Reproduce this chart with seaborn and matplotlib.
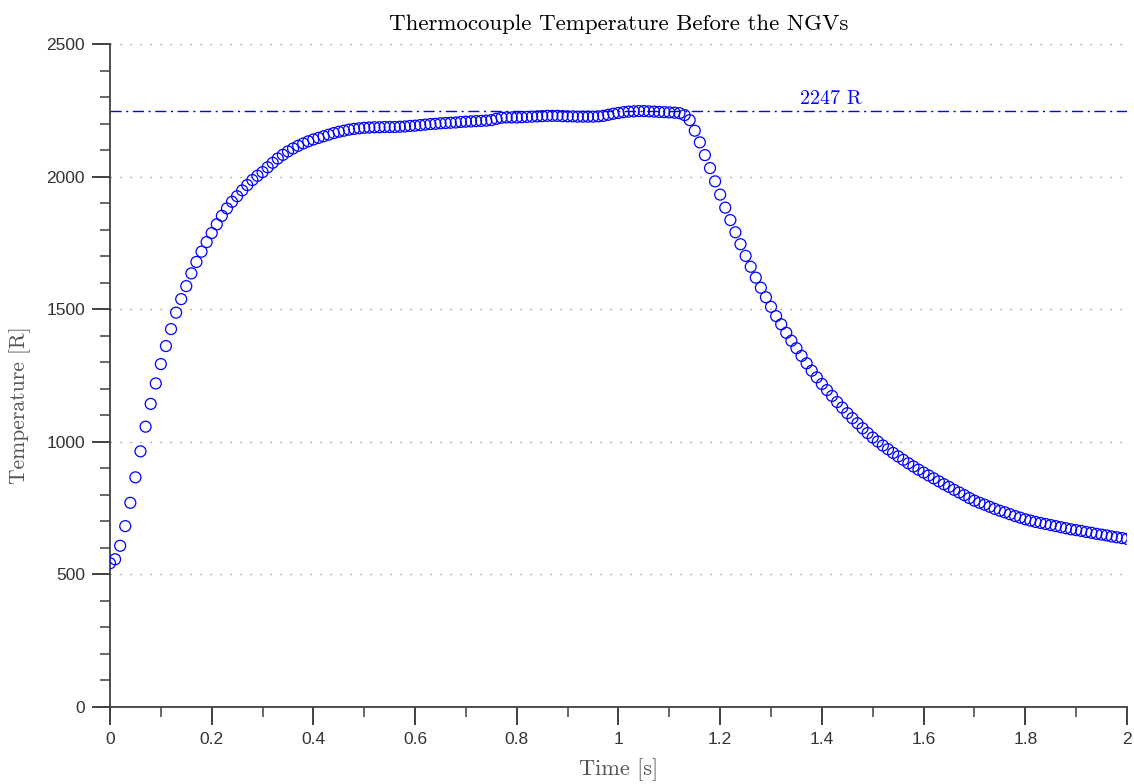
import numpy as np
import pandas as pd
import matplotlib
matplotlib.use("Agg")
import matplotlib.pyplot as plt
import seaborn as sns
from matplotlib.ticker import MultipleLocator, FuncFormatter

# ==========================================
# DATA (one sample every 0.01 s)
# ==========================================
SAMPLE_STEP = 0.01   # seconds between thermocouple samples
PEAK_TEMP = 2247     # reference line value [R]

temp_rise = [   # 0.00 .. 0.49 s
    542, 557, 608, 682, 770, 866, 964, 1057, 1143, 1220,
    1293, 1361, 1425, 1487, 1538, 1587, 1635, 1678, 1717, 1753,
    1787, 1820, 1852, 1880, 1905, 1926, 1948, 1968, 1987, 2003,
    2017, 2035, 2052, 2068, 2082, 2095, 2106, 2116, 2125, 2133,
    2140, 2146, 2152, 2158, 2164, 2169, 2173, 2177, 2180, 2182,
]
temp_plateau = [   # 0.50 .. 1.13 s
    2184, 2185, 2186, 2186, 2187, 2187, 2187, 2188, 2189, 2191,
    2192, 2194, 2196, 2198, 2199, 2201, 2202, 2203, 2204, 2206,
    2207, 2208, 2209, 2210, 2211, 2213, 2218, 2222, 2223, 2223,
    2223, 2224, 2225, 2226, 2227, 2228, 2229, 2229, 2229, 2228,
    2227, 2227, 2226, 2226, 2226, 2226, 2227, 2229, 2233, 2237,
    2240, 2243, 2245, 2246, 2247, 2247, 2246, 2245, 2244, 2243,
    2242, 2241, 2239, 2232,
]
temp_decay = [   # 1.14 .. 2.00 s
    2213, 2173, 2129, 2081, 2032, 1982, 1932, 1883, 1836, 1790,
    1745, 1701, 1660, 1619, 1581, 1545, 1509, 1474, 1443, 1411,
    1381, 1353, 1324, 1296, 1268, 1243, 1218, 1195, 1173, 1150,
    1129, 1108, 1089, 1070, 1051, 1033, 1016, 1001, 986, 972,
    958, 945, 932, 919, 907, 895, 884, 873, 862, 851,
    840, 830, 819, 809, 799, 788, 778, 770, 763, 755,
    747, 740, 734, 727, 720, 714, 708, 703, 698, 694,
    690, 686, 682, 678, 674, 670, 667, 664, 660, 657,
    653, 650, 647, 643, 640, 637, 634,
]

temps = temp_rise + temp_plateau + temp_decay
df = pd.DataFrame({"time": np.arange(len(temps)) * SAMPLE_STEP, "temp": temps})

# ==========================================
# PLOT
# ==========================================
sns.set_style("ticks")
plt.rcParams["font.family"] = ["Liberation Sans", "DejaVu Sans"]
SERIF = ["cmr10", "DejaVu Serif"]
AX_GRAY = "#404040"

fig = plt.figure(figsize=(11.34, 7.84), dpi=100)
ax = fig.add_axes([0.097, 0.0982, 0.8968, 0.8457])

sns.scatterplot(data=df, x="time", y="temp", ax=ax, marker="o",
                facecolors="none", edgecolor="#0000ff", linewidth=0.9, s=62,
                zorder=3, legend=False)

ax.axhline(PEAK_TEMP, color="#0000ff", linestyle=(0, (8, 3.3, 1.5, 3.3)),
           linewidth=1.0, zorder=2)
ax.text(1.418, PEAK_TEMP + 12, f"{PEAK_TEMP} R", color="#0000ff", fontsize=14.5,
        family=SERIF, ha="center", va="bottom")

ax.set_xlim(0, 2)
ax.set_ylim(0, 2500)
ax.xaxis.set_major_locator(MultipleLocator(0.2))
ax.xaxis.set_minor_locator(MultipleLocator(0.1))
ax.yaxis.set_major_locator(MultipleLocator(500))
ax.yaxis.set_minor_locator(MultipleLocator(100))
ax.xaxis.set_major_formatter(FuncFormatter(lambda v, p: f"{v:g}"))

ax.yaxis.grid(True, which="major", linestyle=(0, (1, 7)), color="#808080", linewidth=0.9)
ax.xaxis.grid(False)

sns.despine(ax=ax)
for side in ["left", "bottom"]:
    ax.spines[side].set_color(AX_GRAY)
    ax.spines[side].set_linewidth(1.3)
ax.tick_params(which="major", direction="out", length=13, width=1.4, color=AX_GRAY,
               labelsize=12.5, labelcolor="#333333", pad=5)
ax.tick_params(which="minor", direction="out", length=7, width=1.1, color=AX_GRAY)

ax.set_title("Thermocouple Temperature Before the NGVs", family=SERIF, fontsize=16.5,
             color="black", pad=10)
ax.set_xlabel("Time [s]", family=SERIF, fontsize=16, color="#555555", labelpad=8)
ax.set_ylabel("Temperature [R]", family=SERIF, fontsize=15.5, color="#555555")
ax.yaxis.set_label_coords(-0.078, 0.455)

plt.savefig("out.png", dpi=100)
